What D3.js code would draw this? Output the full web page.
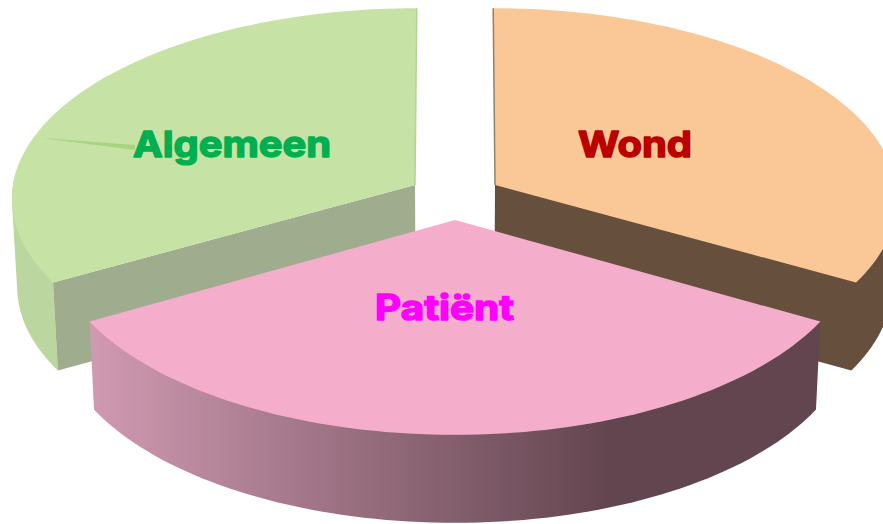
<!DOCTYPE html>
<html>
<head>
<meta charset="utf-8">
<script src="https://cdn.jsdelivr.net/npm/d3@7"></script>
<style>
  html, body { margin: 0; padding: 0; background: #fff; }
  svg { display: block; }
  text { font-family: Inter, "Open Sans", sans-serif; font-weight: 700; stroke-width: 1.5; stroke-linejoin: round; }
</style>
</head>
<body>
<script>
// pie order is clockwise from the back of the chart
const categories = ["Wond", "Patiënt", "Algemeen"];
const values = [33.3, 33.4, 33.3];

const width = 883, height = 524;
const centerX = 455;
const depth = 88;       // wall height
const taper = 0.988;    // the bottom rim sits a bit closer to the centre

// exploded position and perspective for each slice
const layouts = {
    "Wond":     { apex: [495, 185], rx: 401, ry: 189, k: 0.069, top: "#fac796", cut: "#664f3c", wall: "#664f3c", edge: "#8f8272" },
    "Patiënt":  { apex: [455, 220], rx: 401, ry: 194, k: 0.097, top: "#f4aecb", cut: "none", wall: "url(#wallPatient)", edge: "none" },
    "Algemeen": { apex: [415, 185], rx: 402, ry: 189, k: 0.069, top: "#c6e2a4", cut: "#9fac8e", wall: "#bbd69f", edge: "#b4d497" }
};
const labels = {
    "Wond":     { x: 578, y: 157, w: 114, size: 36, color: "#bb0000" },
    "Patiënt":  { x: 375, y: 320, w: 139, size: 35, color: "#ff00ff" },
    "Algemeen": { x: 133, y: 157, w: 198, size: 36, color: "#00b050" }
};

const svg = d3.select("body").append("svg")
    .attr("width", width)
    .attr("height", height)
    .attr("viewBox", [0, 0, width, height]);

const grad = svg.append("defs").append("linearGradient")
    .attr("id", "wallPatient")
    .attr("gradientUnits", "userSpaceOnUse")
    .attr("x1", 90).attr("x2", 820).attr("y1", 0).attr("y2", 0);
grad.append("stop").attr("offset", 0).attr("stop-color", "#d09ab2");
grad.append("stop").attr("offset", 0.71).attr("stop-color", "#63454f");
grad.append("stop").attr("offset", 1).attr("stop-color", "#63454f");

const pie = d3.pie().sort(null);
const arcs = pie(values).map((d, i) => ({ ...d, name: categories[i], ...layouts[categories[i]] }));

// Point on the top face of a slice, at a pie angle and a fraction of the radius.
function project(s, angle, r = 1) {
    const p = 1 / (1 + s.k * r * Math.cos(angle));
    const lean = (s.apex[0] - centerX) * (p - 1) * 0.7;
    return [
        s.apex[0] + s.rx * r * Math.sin(angle) * p + lean,
        s.apex[1] - s.ry * r * Math.cos(angle) * p
    ];
}

// Same point dropped to the bottom rim.
function lower(pt) {
    return [centerX + (pt[0] - centerX) * taper, pt[1] + depth];
}

function rimAngles(s) {
    const n = 80;
    return d3.range(n + 1).map(i => s.startAngle + (s.endAngle - s.startAngle) * i / n);
}

const line = d3.line();

function drawSlice(s) {
    const angles = rimAngles(s);
    const outer = angles.map(a => project(s, a));
    const end = s.name === "Wond" ? outer[outer.length - 1] : outer[0];
    const sameColour = s.cut === s.wall;

    // outer wall, only the part of the rim facing the viewer so no dark fringe shows at the back
    const front = angles.filter(a => Math.cos(a) <= 0.1).map(a => project(s, a));
    // when cut face and wall share a colour they go in one shape, so there is no seam
    if (sameColour) front.push(s.apex);
    const g = svg.append("g");
    g.append("path")
        .attr("d", line(d3.polygonHull(front.concat(front.map(lower)))) + "Z")
        .attr("fill", s.wall);

    // cut face towards the viewer
    if (s.cut !== "none" && !sameColour) {
        g.append("path")
            .attr("d", line([s.apex, end, lower(end), lower(s.apex)]) + "Z")
            .attr("fill", s.cut);
    }

    // top face
    g.append("path")
        .attr("d", line([s.apex].concat(outer)) + "Z")
        .attr("fill", s.top);

    // thin lit edge of the face that looks into the gap
    if (s.edge !== "none") {
        const far = s.name === "Wond" ? outer[0] : outer[outer.length - 1];
        g.append("path")
            .attr("d", line([far, s.apex]))
            .attr("fill", "none")
            .attr("stroke", s.edge)
            .attr("stroke-width", 1.5);
    }
}

// back slices first, front slice on top
["Algemeen", "Wond", "Patiënt"].forEach(name => drawSlice(arcs.find(d => d.name === name)));

// leader of the Algemeen label, a thin wedge on the top face
const algemeen = arcs.find(d => d.name === "Algemeen");
const tip = project(algemeen, d3.scaleLinear([0, 360], [0, 2 * Math.PI])(285), 0.98);
const lab = labels["Algemeen"];
svg.append("path")
    .attr("d", line([tip, [lab.x + 2, lab.y - 12], [lab.x + 2, lab.y - 7]]) + "Z")
    .attr("fill", "#a9d47f");

svg.append("g")
    .selectAll("text")
    .data(categories)
    .join("text")
    .attr("x", d => labels[d].x)
    .attr("y", d => labels[d].y)
    .attr("font-size", d => labels[d].size)
    .attr("textLength", d => labels[d].w)
    .attr("lengthAdjust", "spacingAndGlyphs")
    .attr("fill", d => labels[d].color)
    .attr("stroke", d => labels[d].color)
    .text(d => d);
</script>
</body>
</html>
